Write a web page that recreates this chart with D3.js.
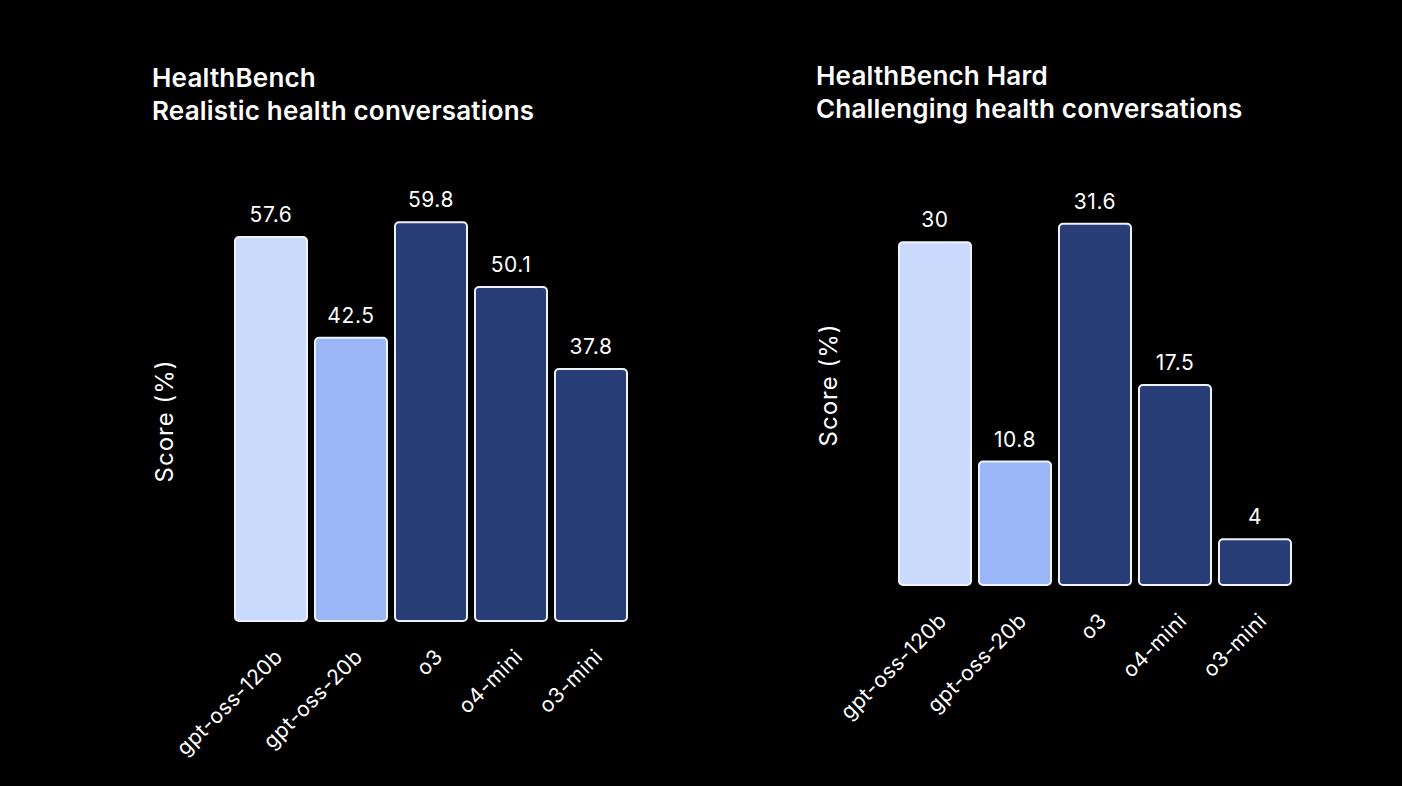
<!DOCTYPE html>
<html>
<head>
<meta charset="utf-8">
<script src="https://cdn.jsdelivr.net/npm/d3@7"></script>
<style>
  html, body { margin: 0; padding: 0; background: #000; }
  text { font-family: Inter, "Noto Sans", sans-serif; fill: #fff; }
</style>
</head>
<body>
<div id="chart"></div>
<script>
// models shared by both panels
const models = ["gpt-oss-120b", "gpt-oss-20b", "o3", "o4-mini", "o3-mini"];
const modelColors = ["#c9dafd", "#9bb6f6", "#293d76", "#293d76", "#293d76"];

// HealthBench
const healthBenchScores = [57.6, 42.5, 59.8, 50.1, 37.8];
const healthBenchTitle = ["HealthBench", "Realistic health conversations"];

// HealthBench Hard
const hardScores = [30, 10.8, 31.6, 17.5, 4];
const hardTitle = ["HealthBench Hard", "Challenging health conversations"];

const width = 1402, height = 786;

const svg = d3.select("#chart").append("svg")
  .attr("width", width)
  .attr("height", height)
  .style("background", "#000");

function drawPanel(cfg) {
  const { titleLines, scores, yMax, left, bottom, titleX, titleY } = cfg;
  const plotW = 400, plotH = 400;

  const x = d3.scaleBand()
    .domain(models)
    .range([left, left + plotW])
    .paddingInner(0.1)
    .paddingOuter(0.05);

  const y = d3.scaleLinear()
    .domain([0, yMax])
    .range([bottom, bottom - plotH]);

  const g = svg.append("g");

  // title
  g.append("text")
    .attr("x", titleX)
    .attr("y", titleY)
    .style("font-size", "26px")
    .style("font-weight", 600)
    .style("letter-spacing", "0.2px")
    .selectAll("tspan")
    .data(titleLines)
    .join("tspan")
    .attr("x", titleX)
    .attr("dy", (d, i) => i === 0 ? 0 : 33)
    .text(d => d);

  // bars
  g.selectAll("rect")
    .data(scores)
    .join("rect")
    .attr("x", (d, i) => x(models[i]))
    .attr("y", d => y(d))
    .attr("width", x.bandwidth())
    .attr("height", d => bottom - y(d))
    .attr("rx", 4)
    .attr("fill", (d, i) => modelColors[i])
    .attr("stroke", "#eef2ff")
    .attr("stroke-width", 2);

  // value labels
  g.selectAll(".val")
    .data(scores)
    .join("text")
    .attr("class", "val")
    .attr("x", (d, i) => x(models[i]) + x.bandwidth() / 2)
    .attr("y", d => y(d) - 15)
    .attr("text-anchor", "middle")
    .style("font-size", "21px")
    .style("letter-spacing", "0.6px")
    .text(d => d);

  // x tick labels
  g.selectAll(".xl")
    .data(models)
    .join("text")
    .attr("class", "xl")
    .attr("text-anchor", "end")
    .attr("transform", d => `translate(${x(d) + x.bandwidth() / 2 + 13}, ${bottom + 37}) rotate(-45)`)
    .style("font-size", "21px")
    .style("letter-spacing", "0.5px")
    .text(d => d);

  // y axis label
  g.append("text")
    .attr("text-anchor", "middle")
    .attr("transform", `translate(${left - 58}, ${bottom - plotH / 2}) rotate(-90)`)
    .style("font-size", "24px")
    .style("letter-spacing", "1px")
    .text("Score (%)");
}

drawPanel({
  titleLines: healthBenchTitle,
  scores: healthBenchScores,
  yMax: 60,
  left: 231,
  bottom: 621,
  titleX: 152,
  titleY: 87
});

drawPanel({
  titleLines: hardTitle,
  scores: hardScores,
  yMax: 35,
  left: 895,
  bottom: 585,
  titleX: 816,
  titleY: 85
});
</script>
</body>
</html>
